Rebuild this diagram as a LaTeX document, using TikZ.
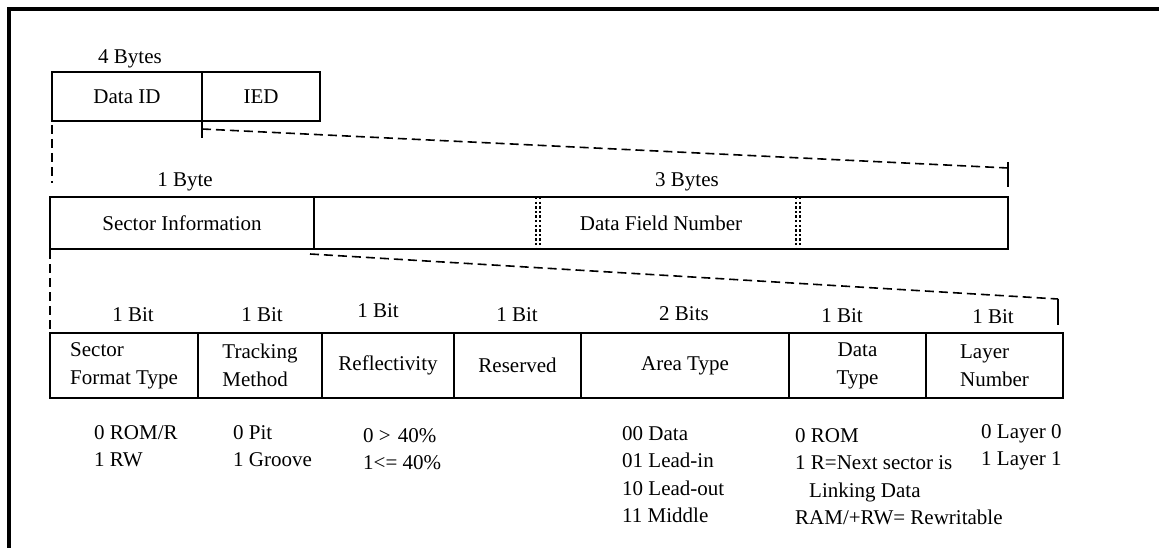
\documentclass[tikz,border=0pt]{standalone}
\usepackage{fontspec}
\setmainfont{Liberation Serif}
\usetikzlibrary{calc}
% a left-aligned block of lines whose baseline is that of its first line
\newcommand\stacklines[1]{\vtop{\baselineskip=27.5pt\halign{##\hfil\cr#1\crcr}}}
\begin{document}
\begin{tikzpicture}[x=1pt, y=-1pt,
  font=\fontsize{21}{28}\selectfont,
  cell/.style={draw, line width=1.8pt, inner sep=0pt, outer sep=0pt, align=center},
  lbl/.style={inner sep=0pt, anchor=base},
  note/.style={inner sep=0pt, anchor=base west},
  guide/.style={line width=1.6pt, dash pattern=on 9pt off 5pt},
  tick/.style={line width=1.8pt},
  sep/.style={line width=2.4pt, dash pattern=on 2.4pt off 2.2pt},
  frame/.style={line width=4pt}]
\useasboundingbox (0,0) rectangle (1159,548);

% outer frame
\draw[frame] (9,548) -- (9,9) -- (1159,9);

% 4-byte header
\node[lbl] (b4) at (130,63.3) {4 Bytes};
\node[cell, minimum width=150pt, minimum height=49pt] (dataid) at (127,96.5) {Data ID};
\node[cell, minimum width=118pt, minimum height=49pt] (ied) at (261,96.5) {IED};

% expansion of Data ID
\coordinate (k1) at ($(ied.south west)+(0,17)$);
\draw[tick] (ied.south west) -- (k1);
\coordinate (g1a) at ($(ied.south west)+(0,8)$);
\coordinate (g1b) at (1008,168);
\draw[guide] (g1a) -- (g1b);
\coordinate (k2a) at (1008,162);
\coordinate (k2b) at (1008,187);
\draw[tick] (k2a) -- (k2b);
\coordinate (v1a) at ($(dataid.south west)+(0,4)$);
\coordinate (v1b) at (52,183);
\draw[guide] (v1a) -- (v1b);

% Data ID fields
\node[lbl] (b1) at (185,187) {1 Byte};
\node[lbl] (b3) at (687,187) {3 Bytes};
\node[cell, minimum width=264pt, minimum height=52pt] (secinfo) at (182,223) {Sector Information};
\node[cell, minimum width=694pt, minimum height=52pt] (dfn) at (661,223) {Data Field Number};
\foreach \sx in {538,798} {
  \draw[sep] (\sx-2.2,197) -- (\sx-2.2,249);
  \draw[sep] (\sx+2.2,197) -- (\sx+2.2,249);
}

% expansion of Sector Information
\coordinate (g2a) at ($(secinfo.south east)+(-4,5)$);
\coordinate (g2b) at (1058,299);
\draw[guide] (g2a) -- (g2b);
\coordinate (k3) at (1058,325);
\draw[tick] (g2b) -- (k3);
\coordinate (v2a) at ($(secinfo.south west)+(0,1)$);
\coordinate (v2b) at (50,330);
\draw[guide] (v2a) -- (v2b);

% bit widths
\node[lbl] (w1) at (133,321) {1 Bit};
\node[lbl] (w2) at (262,321) {1 Bit};
\node[lbl] (w3) at (378,317) {1 Bit};
\node[lbl] (w4) at (517,321) {1 Bit};
\node[lbl] (w5) at (684,320) {2 Bits};
\node[lbl] (w6) at (842,322) {1 Bit};
\node[lbl] (w7) at (993,323) {1 Bit};

% sector information bits
\node[cell, align=left, minimum width=148pt, minimum height=65pt] (sft) at (124,365.5) {Sector\\Format Type};
\node[cell, align=left, minimum width=124pt, minimum height=65pt] (trk) at (260,365.5) {Tracking\\Method};
\node[cell, minimum width=132pt, minimum height=65pt] (refl) at (388,365.5) {Reflectivity};
\node[cell, minimum width=127pt, minimum height=65pt] (resv) at (517.5,365.5) {Reserved};
\node[cell, minimum width=208pt, minimum height=65pt] (area) at (685,365.5) {Area Type};
\node[cell, minimum width=137pt, minimum height=65pt] (dtype) at (857.5,365.5) {Data\\Type};
\node[cell, align=left, minimum width=137pt, minimum height=65pt] (layer) at (994.5,365.5) {Layer\\Number};

% value legends
\node[note] (n1) at (94,439) {\stacklines{0 ROM/R\cr 1 RW}};
\node[note] (n2) at (233,439) {\stacklines{0 Pit\cr 1 Groove}};
\node[note] (n3) at (363,442) {\stacklines{0 >\hspace{7pt}40\%\cr 1<= 40\%}};
\node[note] (n4) at (622,440) {\stacklines{00 Data\cr 01 Lead-in\cr 10 Lead-out\cr 11 Middle}};
\node[note] (n5) at (795,442) {\stacklines{0 ROM\cr 1 R=Next sector is\cr \hspace*{14pt}Linking Data\cr RAM/+RW= Rewritable}};
\node[note] (n6) at (981,438) {\stacklines{0 Layer 0\cr 1 Layer 1}};
\end{tikzpicture}
\end{document}
